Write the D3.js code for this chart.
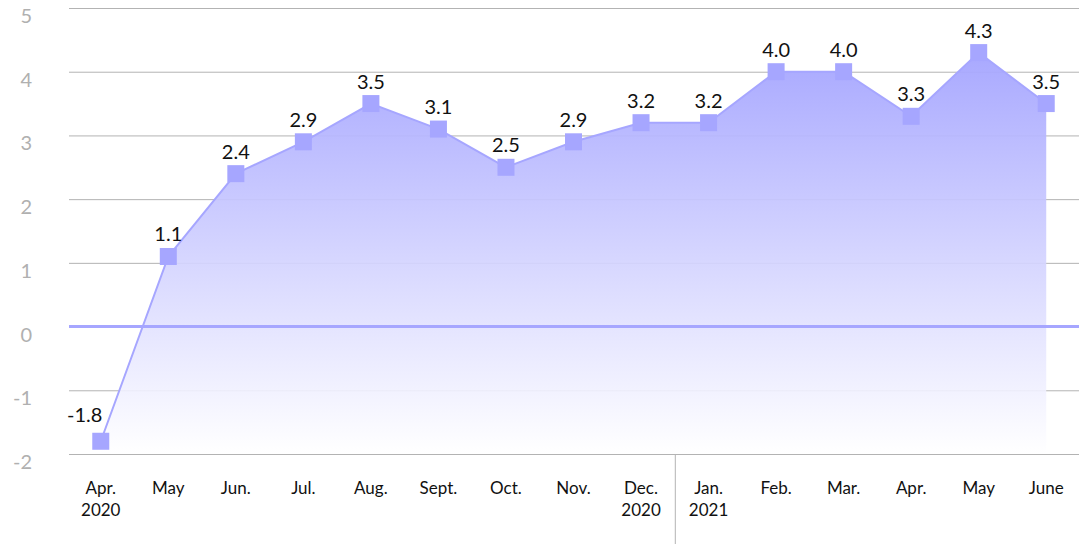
<!DOCTYPE html>
<html>
<head>
<meta charset="utf-8">
<script src="https://cdn.jsdelivr.net/npm/d3@7"></script>
<style>
  body { margin: 0; background: #fff; }
  svg { display: block; font-family: Lato, "Open Sans", sans-serif; }
</style>
</head>
<body>
<svg id="chart" width="1079" height="544"></svg>
<script>
// months shown on the x axis, two lines each
var months = ['Apr.', 'May', 'Jun.', 'Jul.', 'Aug.', 'Sept.', 'Oct.', 'Nov.', 'Dec.', 'Jan.', 'Feb.', 'Mar.', 'Apr.', 'May', 'June'];
var years = ['2020', '', '', '', '', '', '', '', '2020', '2021', '', '', '', '', ''];
var values = [-1.8, 1.1, 2.4, 2.9, 3.5, 3.1, 2.5, 2.9, 3.2, 3.2, 4.0, 4.0, 3.3, 4.3, 3.5];
var yTicks = [-2, -1, 0, 1, 2, 3, 4, 5];

var color = '#a6a6ff';
var svg = d3.select('#chart');

var x = d3.scalePoint()
  .domain(d3.range(values.length))
  .range([67, 1080])
  .padding(0.5);

var y = d3.scaleLinear()
  .domain([-2, 5])
  .range([454, 8]);

// gradient for the area
var defs = svg.append('defs');
var gradient = defs.append('linearGradient')
  .attr('id', 'areaFill')
  .attr('gradientUnits', 'userSpaceOnUse')
  .attr('x1', 0).attr('x2', 0)
  .attr('y1', y(4.3)).attr('y2', y(-2));
gradient.append('stop').attr('offset', '0').attr('stop-color', '#a4a4ff').attr('stop-opacity', 0.95);
gradient.append('stop').attr('offset', '1').attr('stop-color', '#ffffff').attr('stop-opacity', 0.9);

// grid lines
svg.append('g')
  .selectAll('line')
  .data(yTicks.filter(function(d) { return d !== 0; }))
  .enter().append('line')
  .attr('x1', 69)
  .attr('x2', 1079)
  .attr('y1', function(d) { return y(d) + 0.5; })
  .attr('y2', function(d) { return y(d) + 0.5; })
  .attr('stroke', '#b3b3b3')
  .attr('stroke-width', 1);

// y labels
svg.append('g')
  .selectAll('text')
  .data(yTicks)
  .enter().append('text')
  .attr('x', 32)
  .attr('y', function(d) { return y(d) + 15; })
  .attr('text-anchor', 'end')
  .attr('fill', '#b0b0b0')
  .attr('font-size', 20)
  .text(function(d) { return d; });

// area
var area = d3.area()
  .x(function(d, i) { return x(i); })
  .y0(y(-2))
  .y1(function(d) { return y(d); });

svg.append('path')
  .datum(values)
  .attr('d', area)
  .attr('fill', 'url(#areaFill)');

// zero line
svg.append('line')
  .attr('x1', 69)
  .attr('x2', 1079)
  .attr('y1', y(0))
  .attr('y2', y(0))
  .attr('stroke', color)
  .attr('stroke-width', 3);

// line
var line = d3.line()
  .x(function(d, i) { return x(i); })
  .y(function(d) { return y(d); });

svg.append('path')
  .datum(values)
  .attr('d', line)
  .attr('fill', 'none')
  .attr('stroke', color)
  .attr('stroke-width', 2);

// markers
var size = 17;
svg.append('g')
  .selectAll('rect')
  .data(values)
  .enter().append('rect')
  .attr('x', function(d, i) { return x(i) - size / 2; })
  .attr('y', function(d) { return y(d) - size / 2; })
  .attr('width', size)
  .attr('height', size)
  .attr('fill', color);

// value labels
svg.append('g')
  .selectAll('text')
  .data(values)
  .enter().append('text')
  .attr('x', function(d, i) { return i === 0 ? x(i) - 16 : x(i); })
  .attr('y', function(d, i) { return i === 0 ? y(d) - 19 : y(d) - 15; })
  .attr('text-anchor', 'middle')
  .attr('fill', '#111')
  .attr('font-size', 20)
  .text(function(d) { return d.toFixed(1); });

// year separator
var sep = (x(8) + x(9)) / 2;
svg.append('line')
  .attr('x1', sep + 0.5)
  .attr('x2', sep + 0.5)
  .attr('y1', y(-2))
  .attr('y2', 544)
  .attr('stroke', '#b3b3b3')
  .attr('stroke-width', 1);

// x labels
var xLabels = svg.append('g')
  .selectAll('text')
  .data(months)
  .enter().append('text')
  .attr('x', function(d, i) { return x(i); })
  .attr('y', 494)
  .attr('text-anchor', 'middle')
  .attr('fill', '#111')
  .attr('font-size', 17);

xLabels.append('tspan')
  .attr('x', function(d, i) { return x(i); })
  .text(function(d) { return d; });

xLabels.append('tspan')
  .attr('x', function(d, i) { return x(i); })
  .attr('dy', 22)
  .text(function(d, i) { return years[i]; });
</script>
</body>
</html>
